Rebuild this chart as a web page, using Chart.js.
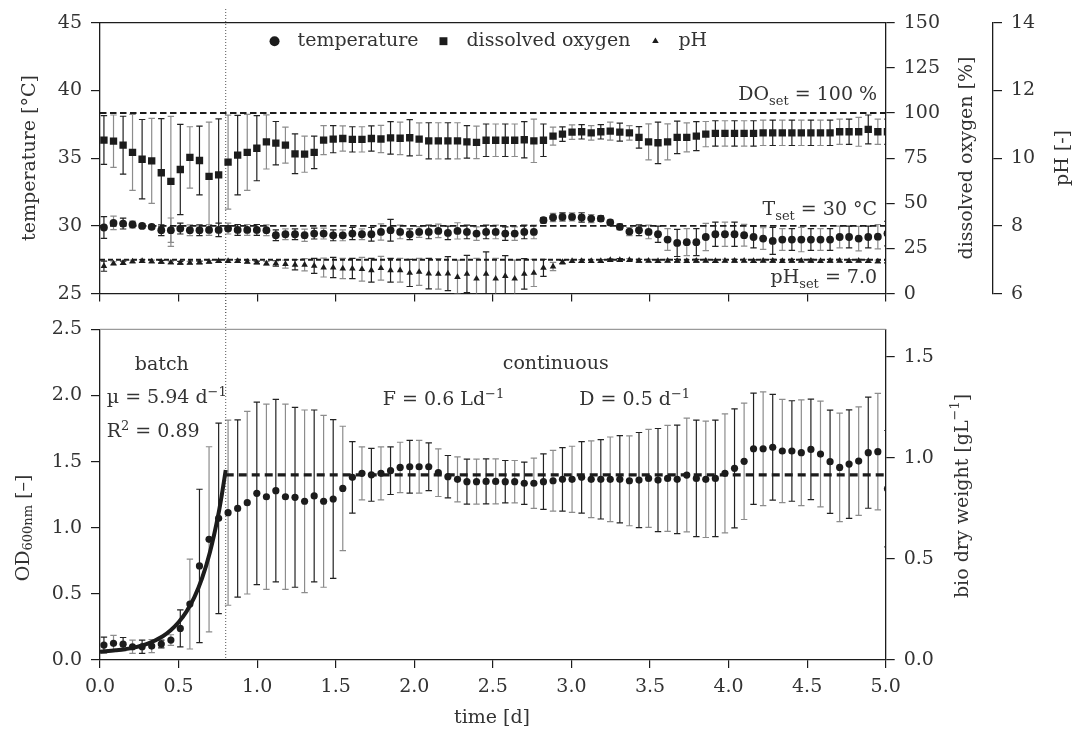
<!DOCTYPE html>
<html>
<head>
<meta charset="utf-8">
<script src="https://cdn.jsdelivr.net/npm/chart.js@4.4.1/dist/chart.umd.min.js"></script>
<style>
  html, body { margin: 0; padding: 0; background: #fff; }
  #wrap { position: relative; width: 1075px; height: 731px; overflow: hidden; }
  #wrap canvas { position: absolute; left: 0; }
  #topChart { top: 0; }
  #bottomChart { top: 300px; }
</style>
</head>
<body>
<div id="wrap">
  <canvas id="topChart" width="1075" height="314"></canvas>
  <canvas id="bottomChart" width="1075" height="431"></canvas>
</div>
<script>
// sampling times [d]
var time = [0.025,0.086,0.147,0.207,0.268,0.329,0.390,0.451,0.511,0.572,
  0.633,0.694,0.755,0.815,0.876,0.937,0.998,1.059,1.119,1.180,
  1.241,1.302,1.363,1.423,1.484,1.545,1.606,1.667,1.727,1.788,
  1.849,1.910,1.971,2.031,2.092,2.153,2.214,2.275,2.335,2.396,
  2.457,2.518,2.579,2.639,2.700,2.761,2.822,2.883,2.943,3.004,
  3.065,3.126,3.187,3.247,3.308,3.369,3.430,3.491,3.551,3.612,
  3.673,3.734,3.795,3.855,3.916,3.977,4.038,4.099,4.159,4.220,
  4.281,4.342,4.403,4.463,4.524,4.585,4.646,4.707,4.767,4.828,
  4.889,4.950,5.011];

var temperature = [29.88,30.22,30.17,30.10,30.00,29.93,29.68,29.68,29.80,29.68,
  29.68,29.70,29.70,29.80,29.70,29.70,29.70,29.68,29.31,29.38,
  29.38,29.31,29.43,29.43,29.30,29.30,29.43,29.38,29.38,29.55,
  29.68,29.55,29.38,29.55,29.55,29.63,29.48,29.63,29.55,29.43,
  29.55,29.55,29.43,29.43,29.55,29.55,30.42,30.62,30.66,30.66,
  30.62,30.54,30.54,30.25,29.93,29.58,29.68,29.55,29.38,28.99,
  28.74,28.80,28.80,29.18,29.38,29.38,29.38,29.31,29.18,29.06,
  28.89,28.99,28.99,28.99,28.99,28.99,28.99,29.18,29.18,29.06,
  29.18,29.20,29.43];
var temperatureErr = [0.8,0.5,0.4,0.25,0.15,0.15,0.4,0.9,0.4,0.4,
  0.4,0.4,0.5,0.4,0.4,0.4,0.4,0.4,0.4,0.4,
  0.4,0.45,0.4,0.4,0.4,0.4,0.45,0.4,0.5,0.6,
  0.8,0.5,0.4,0.4,0.5,0.5,0.5,0.6,0.5,0.5,
  0.5,0.5,0.5,0.5,0.5,0.5,0.2,0.3,0.3,0.3,
  0.35,0.3,0.2,0.2,0.2,0.3,0.4,0.5,0.6,0.8,
  1.0,1.0,1.0,1.0,0.9,0.9,0.9,0.8,0.8,0.8,
  1.0,0.8,0.8,0.9,0.8,0.8,0.8,0.8,0.8,0.9,
  0.8,0.9,0.9];

var oxygen = [85.0,84.4,82.2,78.2,74.4,73.5,66.9,62.1,68.7,75.4,
  73.7,64.9,65.7,72.8,76.7,78.2,80.5,84.0,83.3,82.2,
  77.4,77.2,78.2,85.0,85.5,85.9,85.4,85.4,85.9,85.6,
  86.2,86.0,86.3,85.5,84.6,84.6,84.6,84.6,84.0,83.7,
  84.9,84.9,84.9,84.9,85.2,84.6,84.9,87.2,88.3,89.4,
  89.6,89.0,89.6,90.0,89.4,89.0,86.5,84.0,83.5,84.0,
  86.5,86.5,87.2,88.3,88.7,88.7,88.7,88.7,88.7,89.0,
  89.0,89.0,89.0,89.0,89.0,89.0,89.0,89.6,89.6,89.6,
  90.9,89.6,89.6];
var oxygenErr = [13.5,14.5,16,21,22,23.5,30,36,25,17,
  19,30,31,26,22,21,18,15,12,10,
  11,10,9,8,7.5,7,7,7,7,7.5,
  9,9,10,9,10,10,10,10,9,9,
  9,9,9,9,10,12,9,5,4,4,
  4,4,4,5,5,4,6,10,11.5,10,
  9,8,8,7,7,7,7,7,7,7,
  7,7,7,7,7,7,7,7,7,8,
  8,7,7];

var ph = [6.81,6.89,6.91,6.95,6.96,6.95,6.94,6.92,6.91,6.91,
  6.92,6.94,6.96,6.96,6.96,6.94,6.92,6.89,6.89,6.87,
  6.85,6.85,6.82,6.77,6.77,6.74,6.74,6.72,6.69,6.75,
  6.69,6.69,6.61,6.64,6.59,6.58,6.59,6.49,6.58,6.44,
  6.58,6.44,6.52,6.44,6.58,6.61,6.76,6.80,6.93,6.96,
  6.96,6.96,6.96,6.99,6.99,6.99,6.97,6.97,6.96,6.97,
  6.97,6.96,6.97,6.97,6.96,6.97,6.97,6.97,6.96,6.97,
  6.97,6.96,6.97,6.97,6.97,6.96,6.97,6.97,6.96,6.97,
  6.96,6.95,6.95];
var phErr = [0.15,0.05,0.05,0.04,0.04,0.04,0.04,0.04,0.04,0.04,
  0.04,0.04,0.04,0.04,0.04,0.04,0.04,0.06,0.08,0.12,
  0.15,0.18,0.22,0.28,0.3,0.3,0.3,0.35,0.35,0.35,
  0.35,0.35,0.4,0.4,0.45,0.45,0.5,0.5,0.55,0.6,
  0.65,0.6,0.6,0.55,0.45,0.4,0.25,0.12,0.05,0.04,
  0.04,0.04,0.04,0.04,0.04,0.04,0.04,0.04,0.04,0.04,
  0.04,0.04,0.04,0.04,0.04,0.04,0.04,0.04,0.04,0.04,
  0.04,0.04,0.04,0.04,0.04,0.04,0.04,0.04,0.04,0.04,
  0.04,0.04,0.04];

var od = [0.113,0.126,0.120,0.100,0.100,0.105,0.121,0.151,0.239,0.423,
  0.711,0.912,1.071,1.114,1.146,1.189,1.260,1.234,1.280,1.234,
  1.230,1.200,1.240,1.200,1.217,1.297,1.381,1.411,1.400,1.411,
  1.431,1.456,1.461,1.461,1.461,1.416,1.386,1.366,1.348,1.348,
  1.350,1.350,1.348,1.348,1.336,1.336,1.348,1.355,1.366,1.366,
  1.381,1.366,1.366,1.366,1.366,1.355,1.360,1.373,1.360,1.373,
  1.366,1.398,1.373,1.366,1.373,1.411,1.449,1.502,1.597,1.597,
  1.608,1.580,1.580,1.567,1.592,1.557,1.499,1.456,1.481,1.504,
  1.567,1.575,1.295];
var odErr = [0.06,0.06,0.05,0.05,0.05,0.05,0.03,0.04,0.14,0.34,
  0.58,0.70,0.72,0.70,0.67,0.69,0.69,0.70,0.69,0.70,
  0.68,0.69,0.65,0.65,0.60,0.47,0.27,0.20,0.20,0.20,
  0.18,0.19,0.20,0.20,0.18,0.18,0.16,0.17,0.17,0.17,
  0.17,0.17,0.16,0.16,0.16,0.19,0.21,0.23,0.24,0.25,
  0.27,0.29,0.30,0.32,0.33,0.34,0.36,0.37,0.39,0.40,
  0.41,0.43,0.44,0.44,0.44,0.45,0.45,0.44,0.42,0.43,
  0.40,0.39,0.38,0.40,0.38,0.40,0.39,0.41,0.41,0.41,
  0.42,0.44,0.44];

// exponential batch fit
var fitTime = [0.00,0.10,0.20,0.30,0.40,0.45,0.50,0.55,0.60,0.65,0.70,0.75,0.775,0.80];
var fitOd = [0.063,0.073,0.090,0.122,0.180,0.225,0.285,0.366,0.474,0.620,0.817,1.081,1.247,1.436];

var tempSet = 30, oxygenSet = 100, phSet = 7.0, odSteady = 1.4;
var feedStart = 0.8;
var seriesLabels = ['temperature', 'dissolved oxygen', 'pH'];

var FONT_FAMILY = "'DejaVu Serif', serif";
var INK = '#1c1c1c';
var TEXT = '#333333';

Chart.defaults.font.family = FONT_FAMILY;
Chart.defaults.font.size = 19;
Chart.defaults.color = TEXT;

function points(xs, ys) {
  return xs.map(function (x, i) { return { x: x, y: ys[i] }; });
}

function richText(ctx, parts, x, y, align) {
  var sizes = { '': 19, sub: 13, sup: 13 };
  var shift = { '': 0, sub: 5, sup: -7 };
  var w = 0;
  parts.forEach(function (p) {
    ctx.font = sizes[p[1] || ''] + 'px ' + FONT_FAMILY;
    w += ctx.measureText(p[0]).width;
  });
  var cx = align === 'center' ? x - w / 2 : (align === 'right' ? x - w : x);
  ctx.textAlign = 'left';
  parts.forEach(function (p) {
    var k = p[1] || '';
    ctx.font = sizes[k] + 'px ' + FONT_FAMILY;
    ctx.fillText(p[0], cx, y + shift[k]);
    cx += ctx.measureText(p[0]).width;
  });
}

// error bars drawn through the chart scales, behind the markers
var errorBars = {
  id: 'errorBars',
  beforeDatasetsDraw: function (chart) {
    var ctx = chart.ctx, a = chart.chartArea;
    ctx.save();
    ctx.beginPath();
    ctx.rect(a.left, a.top, a.right - a.left, a.bottom - a.top);
    ctx.clip();
    ctx.lineWidth = 1.2;
    chart.data.datasets.forEach(function (ds) {
      if (!ds.errors) return;
      var xs = chart.scales.x, ys = chart.scales[ds.yAxisID];
      ds.data.forEach(function (p, i) {
        var x = xs.getPixelForValue(p.x);
        var lo = ys.getPixelForValue(p.y - ds.errors[i]);
        var hi = ys.getPixelForValue(p.y + ds.errors[i]);
        ctx.strokeStyle = i % 2 ? '#8c8c8c' : '#222222';
        ctx.beginPath();
        ctx.moveTo(x, lo); ctx.lineTo(x, hi);
        ctx.moveTo(x - 3.2, lo); ctx.lineTo(x + 3.2, lo);
        ctx.moveTo(x - 3.2, hi); ctx.lineTo(x + 3.2, hi);
        ctx.stroke();
      });
    });
    ctx.restore();
  }
};

function feedLine(fromY, toBottom) {
  return {
    id: 'feedLine',
    beforeDatasetsDraw: function (chart) {
      var ctx = chart.ctx;
      var x = chart.scales.x.getPixelForValue(feedStart);
      ctx.save();
      ctx.strokeStyle = '#555';
      ctx.lineWidth = 1;
      ctx.setLineDash([1, 2]);
      ctx.beginPath();
      ctx.moveTo(x, fromY);
      ctx.lineTo(x, toBottom ? chart.chartArea.bottom : chart.height);
      ctx.stroke();
      ctx.restore();
    }
  };
}

function topBorder(color) {
  return {
    id: 'topBorder',
    afterDraw: function (chart) {
      var ctx = chart.ctx, a = chart.chartArea;
      ctx.save();
      ctx.strokeStyle = color;
      ctx.lineWidth = 1.3;
      ctx.beginPath();
      ctx.moveTo(a.left, a.top);
      ctx.lineTo(a.right, a.top);
      ctx.stroke();
      ctx.restore();
    }
  };
}

function notes(items, titles) {
  return {
    id: 'notes',
    afterDatasetsDraw: function (chart) {
      var ctx = chart.ctx;
      ctx.save();
      ctx.fillStyle = TEXT;
      ctx.textBaseline = 'alphabetic';
      items.forEach(function (n) {
        var x = chart.scales.x.getPixelForValue(n.x);
        var y = chart.scales[n.axis].getPixelForValue(n.y);
        richText(ctx, n.parts, x, y, n.align);
      });
      titles.forEach(function (t) {
        ctx.save();
        ctx.translate(t.x, t.y);
        if (t.rotate) ctx.rotate(-Math.PI / 2);
        ctx.textBaseline = 'middle';
        richText(ctx, t.parts, 0, 0, 'center');
        ctx.restore();
      });
      ctx.restore();
    }
  };
}

var inlineLegend = {
  id: 'inlineLegend',
  afterDatasetsDraw: function (chart) {
    var ctx = chart.ctx, a = chart.chartArea;
    var items = chart.data.datasets.filter(function (d) { return seriesLabels.indexOf(d.label) >= 0; });
    var sizes = { circle: 5, rect: 5.6, triangle: 3.8 };
    var gapMarker = 23, gapItem = 25;
    ctx.save();
    ctx.font = '19px ' + FONT_FAMILY;
    var total = 0;
    items.forEach(function (d, i) {
      total += gapMarker + ctx.measureText(d.label).width + (i ? gapItem : 0);
    });
    var x = (a.left + a.right) / 2 - 2 - total / 2;
    var y = a.top + 18.5;
    items.forEach(function (d) {
      ctx.fillStyle = INK;
      if (Chart.helpers && Chart.helpers.drawPoint) {
        Chart.helpers.drawPoint(ctx, { pointStyle: d.pointStyle, radius: sizes[d.pointStyle], rotation: 0, borderWidth: 0 }, x, y);
      } else {
        ctx.beginPath(); ctx.arc(x, y, 4, 0, Math.PI * 2); ctx.fill();
      }
      ctx.fillStyle = TEXT;
      ctx.textAlign = 'left';
      ctx.textBaseline = 'middle';
      ctx.fillText(d.label, x + gapMarker, y);
      x += gapMarker + ctx.measureText(d.label).width + gapItem;
    });
    ctx.restore();
  }
};

function xAxis(showLabels, height) {
  return {
    type: 'linear', min: 0, max: 5,
    ticks: { display: showLabels, stepSize: 0.5, padding: 8, maxRotation: 0, autoSkip: false, color: TEXT,
      callback: function (v) { return v.toFixed(1); } },
    grid: { drawOnChartArea: false, tickLength: 8, color: INK, lineWidth: 1.2 },
    border: { color: INK, width: 1.3 },
    afterFit: function (s) { s.height = height; }
  };
}

function yAxis(position, min, max, step, width, digits, weight) {
  return {
    type: 'linear', position: position, min: min, max: max, weight: weight || 0,
    ticks: { stepSize: step, padding: 9, includeBounds: false, color: TEXT,
      callback: function (v) { return v.toFixed(digits); } },
    grid: { drawOnChartArea: false, tickLength: 9, color: INK, lineWidth: 1.2 },
    border: { color: INK, width: 1.3 },
    afterFit: function (s) { s.width = width; }
  };
}

function markers(label, values, errors, axisId, style, radius) {
  return {
    label: label, data: points(time, values), errors: errors, yAxisID: axisId,
    pointStyle: style, pointRadius: radius, pointBackgroundColor: INK, backgroundColor: INK,
    pointBorderWidth: 0, showLine: false, clip: 0
  };
}

function refLine(x0, value, axisId, dash, width) {
  return {
    label: 'ref', data: [{ x: x0, y: value }, { x: 5, y: value }], yAxisID: axisId,
    showLine: true, pointRadius: 0, borderColor: INK, borderWidth: width, borderDash: dash
  };
}

var baseOptions = function (padTop, scales) {
  return {
    responsive: false, animation: false, devicePixelRatio: 1, events: [],
    layout: { padding: { top: padTop, left: 0, right: 0, bottom: 0 } },
    plugins: { legend: { display: false }, tooltip: { enabled: false } },
    scales: scales
  };
};

new Chart(document.getElementById('topChart'), {
  type: 'scatter',
  data: {
    datasets: [
      markers(seriesLabels[0], temperature, temperatureErr, 'y', 'circle', 3.9),
      markers(seriesLabels[1], oxygen, oxygenErr, 'yDO', 'rect', 5.2),
      markers(seriesLabels[2], ph, phErr, 'yPH', 'triangle', 3.8),
      refLine(0, oxygenSet, 'yDO', [6.5, 3.5], 2),
      refLine(0, tempSet, 'y', [6.5, 3.5], 1.8),
      refLine(0, phSet, 'yPH', [5, 3], 2)
    ]
  },
  options: baseOptions(22.7, {
    x: xAxis(false, 17),
    y: yAxis('left', 25, 45, 5, 100, 0),
    yDO: yAxis('right', 0, 150, 25, 107.3, 0, 0),
    yPH: yAxis('right', 6, 14, 2, 82, 0, 1)
  }),
  plugins: [
    errorBars, feedLine(9, false), topBorder(INK), inlineLegend,
    notes([
      { parts: [['DO'], ['set', 'sub'], [' = 100 %']], x: 4.945, y: 107, axis: 'yDO', align: 'right' },
      { parts: [['T'], ['set', 'sub'], [' = 30 °C']], x: 4.945, y: 30.79, axis: 'y', align: 'right' },
      { parts: [['pH'], ['set', 'sub'], [' = 7.0']], x: 4.945, y: 6.31, axis: 'yPH', align: 'right' }
    ], [
      { parts: [['temperature [°C]']], x: 30, y: 158, rotate: true },
      { parts: [['dissolved oxygen [%]']], x: 967, y: 158, rotate: true },
      { parts: [['pH [-]']], x: 1063, y: 158, rotate: true }
    ])
  ]
});

new Chart(document.getElementById('bottomChart'), {
  type: 'scatter',
  data: {
    datasets: [
      {
        label: 'fit', data: points(fitTime, fitOd), yAxisID: 'y', showLine: true,
        pointRadius: 0, borderColor: INK, borderWidth: 4, cubicInterpolationMode: 'monotone'
      },
      markers('OD', od, odErr, 'y', 'circle', 3.6),
      refLine(feedStart, odSteady, 'y', [8, 5], 3.3)
    ]
  },
  options: baseOptions(29.3, {
    x: xAxis(true, 71),
    y: yAxis('left', 0, 2.5, 0.5, 100, 1),
    yBio: yAxis('right', 0, 1.6375, 0.5, 189.3, 1, 0)
  }),
  plugins: [
    errorBars, feedLine(0, true), topBorder('#9a9a9a'),
    notes([
      { parts: [['batch']], x: 0.393, y: 2.19, axis: 'y', align: 'center' },
      { parts: [['µ = 5.94 d'], ['−1', 'sup']], x: 0.043, y: 1.94, axis: 'y', align: 'left' },
      { parts: [['R'], ['2', 'sup'], [' = 0.89']], x: 0.043, y: 1.686, axis: 'y', align: 'left' },
      { parts: [['continuous']], x: 2.90, y: 2.20, axis: 'y', align: 'center' },
      { parts: [['F = 0.6 Ld'], ['−1', 'sup']], x: 1.80, y: 1.93, axis: 'y', align: 'left' },
      { parts: [['D = 0.5 d'], ['−1', 'sup']], x: 3.05, y: 1.93, axis: 'y', align: 'left' }
    ], [
      { parts: [['OD'], ['600nm', 'sub'], [' [–]']], x: 24, y: 228, rotate: true },
      { parts: [['bio dry weight [gL'], ['−1', 'sup'], [']']], x: 963, y: 196, rotate: true },
      { parts: [['time [d]']], x: 492, y: 418, rotate: false }
    ])
  ]
});
</script>
</body>
</html>
